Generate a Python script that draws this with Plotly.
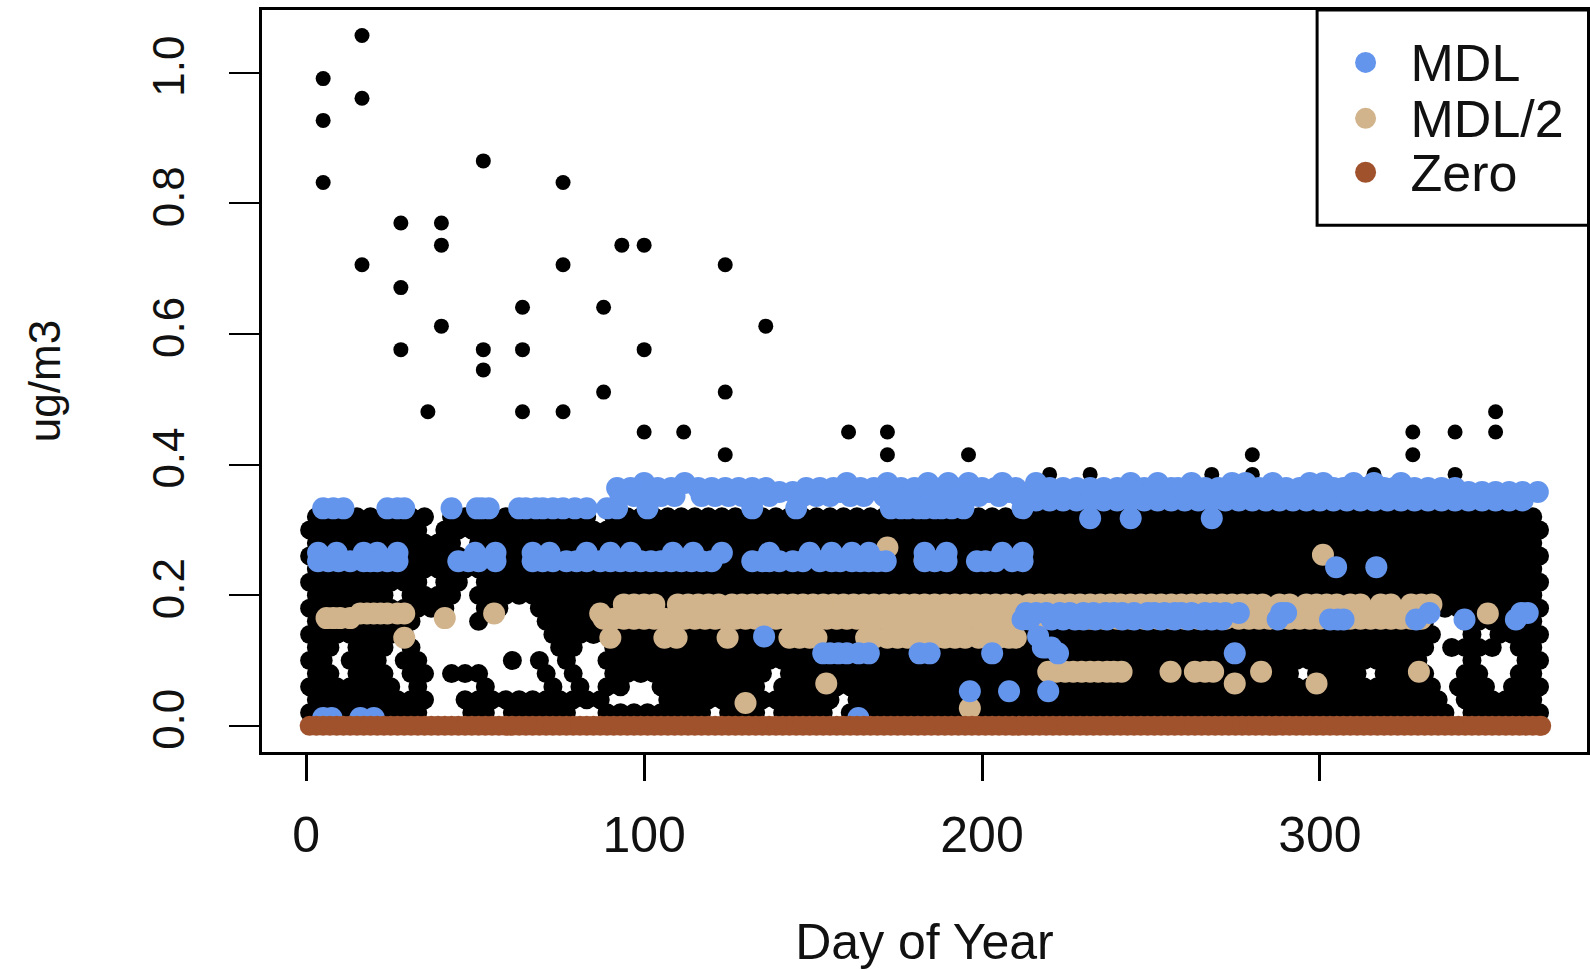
import plotly.graph_objects as go

BLACK = "#000000"
BLUE = "#6495ED"
TAN = "#D2B48C"
BROWN = "#A0522D"

# Isolated readings above the detection limit
high_days = [5, 5, 5, 16.5, 16.5, 16.5, 28, 28, 28, 36, 40, 40, 40, 52.4, 52.4, 52.4, 64, 64, 64,
             76, 76, 76, 88, 88, 93.4, 100, 100, 100, 111.7, 124, 124, 124, 136, 160.5, 172, 172,
             196, 220, 232, 268, 280, 280, 316, 327.5, 327.5, 340, 340, 352, 352]
high_vals = [.991, .927, .832, 1.057, .961, .706, .770, .671, .576, .481, .770, .736, .612, .865, .576, .545,
             .641, .576, .481, .832, .706, .481, .641, .511, .736, .736, .576, .450, .450, .706, .511, .415,
             .612, .450, .450, .415, .415, .385, .385, .385, .415, .385, .385, .450, .415, .450, .385, .481, .450]

# Dense detected readings: days read per concentration level
row_02 = [1,5,9,13,17,21,25,29,33,49,53,61,65,69,73,77,89,93,97,101,105,109,113,117,125,129,133,141,145,149,153,161,165,169,173,177,181,185,189,193,197,201,205,209,213,217,221,225,229,233,237,241,245,249,253,257,261,265,269,273,277,281,285,289,293,297,301,305,309,313,317,321,325,329,333,337,345,349,353,357,361,365]
row_04 = [3,7,11,15,19,23,27,31,35,47,51,55,59,63,67,71,75,79,83,87,107,111,115,119,123,127,131,135,139,143,147,151,155,163,167,171,175,179,183,187,191,195,199,203,207,211,215,219,223,227,231,235,239,243,247,251,255,259,263,267,271,275,279,283,287,291,295,299,303,307,311,315,319,323,327,331,335,343,347,351,355,359,363]
row_06 = [1,5,9,13,17,21,25,33,53,73,81,89,93,105,109,113,117,121,125,129,133,141,145,149,153,157,161,165,169,173,177,181,185,189,193,197,201,205,209,213,217,221,225,229,233,237,241,245,249,253,257,261,265,269,273,277,281,285,289,293,297,301,305,309,313,317,321,325,329,333,341,345,349,357,361,365]
row_08 = [3,7,15,19,23,31,35,43,47,51,71,79,91,95,99,103,107,111,115,119,123,127,131,135,143,147,151,155,159,163,167,171,175,179,183,187,191,195,199,203,207,211,215,219,223,227,231,235,239,243,247,251,255,259,263,267,271,275,279,283,287,291,299,303,307,311,319,323,327,331,343,347,359,363]
row_10 = [1,5,13,17,21,29,33,61,69,77,89,93,97,101,105,109,113,117,121,125,129,133,137,141,145,149,153,157,161,165,169,173,177,181,185,189,193,197,201,205,209,213,217,221,225,229,233,237,241,245,249,253,257,261,265,269,273,277,281,285,289,293,297,301,305,309,313,317,321,325,329,345,361,365]
row_12 = [3,7,15,19,23,31,75,79,91,95,99,103,107,111,115,119,123,127,131,135,139,143,147,151,155,159,163,167,171,175,179,183,187,191,195,199,203,207,211,215,219,223,227,231,235,239,243,247,251,255,259,263,267,271,275,279,283,287,291,295,299,303,307,311,315,319,323,327,331,339,343,347,351,359,363]
row_14 = [1,5,9,13,17,21,25,29,73,77,81,85,89,93,97,101,105,109,113,117,121,125,129,133,137,141,145,149,153,157,161,165,169,173,177,181,185,189,193,197,201,205,209,213,217,221,225,229,233,237,241,245,249,253,257,261,265,269,273,277,281,285,289,293,297,301,305,309,313,317,321,325,329,333,345,353,357,361,365]
row_16 = [3,7,11,15,19,23,27,31,51,71,75,79,83,87,91,95,99,103,107,111,115,119,123,127,131,135,139,143,147,151,155,159,163,167,171,175,179,183,187,191,195,199,203,207,211,215,219,223,227,231,235,239,243,247,251,255,259,263,267,271,275,279,283,287,291,295,299,303,307,311,315,319,323,327,331,343,347,351,355,359,363]
row_18 = [1,5,9,13,17,21,25,29,33,37,41,53,57,69,73,77,81,85,89,93,97,101,105,109,113,117,121,125,129,133,137,141,145,149,153,157,161,165,169,173,177,181,185,189,193,197,201,205,209,213,217,221,225,229,233,237,241,245,249,253,257,261,265,269,273,277,281,285,289,293,297,301,305,309,313,317,321,325,329,333,337,341,345,349,353,357,361,365]
row_20 = [3,7,11,15,19,23,31,35,39,43,51,55,59,63,67,71,75,79,83,87,91,95,99,103,107,111,115,119,123,127,131,135,139,143,147,151,155,159,163,167,171,175,179,183,187,191,195,199,203,207,211,215,219,223,227,231,235,239,243,247,251,255,259,263,267,271,275,279,283,287,291,295,299,303,307,311,315,319,323,327,331,335,339,343,347,351,355,359,363]
row_22 = [1,5,9,13,17,21,25,29,33,41,45,53,57,61,65,69,73,77,81,85,89,93,97,101,105,109,113,117,121,125,129,133,137,141,145,149,153,157,161,165,169,173,177,181,185,189,193,197,201,205,209,213,217,221,225,229,233,237,241,245,249,253,257,261,265,269,273,277,281,285,289,293,297,301,305,309,313,317,321,325,329,333,337,341,345,349,353,357,361,365]
row_24 = [3,7,11,15,19,23,27,31,35,39,43,47,51,55,59,63,67,71,75,79,83,87,91,95,99,103,107,111,115,119,123,127,131,135,139,143,147,151,155,159,163,167,171,175,179,183,187,191,195,199,203,207,211,215,219,223,227,231,235,239,243,247,251,255,259,263,267,271,275,279,283,287,291,295,299,303,307,311,315,319,323,327,331,335,339,343,347,351,355,359,363]
row_26 = [1,5,9,13,17,21,25,29,33,37,41,45,49,53,57,61,65,69,73,77,81,85,89,93,97,101,105,109,113,117,121,125,129,133,137,141,145,149,153,157,161,165,169,173,177,181,185,189,193,197,201,205,209,213,217,221,225,229,233,237,241,245,249,253,257,261,265,269,273,277,281,285,289,293,297,301,305,309,313,317,321,325,329,333,337,341,345,349,353,357,361,365]
row_28 = [3,7,11,15,19,23,27,31,35,39,43,51,55,59,63,67,71,75,79,83,87,91,95,99,103,107,111,115,119,123,127,131,135,139,143,147,151,155,159,163,167,171,175,179,183,187,191,195,199,203,207,211,215,219,223,227,231,235,239,243,247,251,255,259,263,267,271,275,279,283,287,291,295,299,303,307,311,315,319,323,327,331,335,339,343,347,351,355,359,363]
row_30 = [1,5,9,13,17,21,25,29,33,41,45,49,53,57,61,65,69,73,77,81,85,89,93,97,101,105,109,113,117,121,125,129,133,137,141,145,149,153,157,161,165,169,173,177,181,185,189,193,197,201,205,209,213,217,221,225,229,233,237,241,245,249,253,257,261,265,269,273,277,281,285,289,293,297,301,305,309,313,317,321,325,329,333,337,341,345,349,353,357,361,365]
row_32 = [3,7,11,15,19,23,27,31,35,43,47,51,55,59,63,67,71,75,79,83,91,95,99,103,107,111,115,119,123,127,131,135,139,143,147,151,155,159,163,167,171,175,179,183,187,191,195,199,203,207,211,215,219,223,227,231,235,239,243,247,251,255,259,263,267,271,275,279,283,287,291,295,299,303,307,311,315,319,323,327,331,335,339,343,347,351,355,359,363]
dense_levels = [.02, .04, .06, .08, .10, .12, .14, .16, .18, .20, .22, .24, .26, .28, .30, .32]
dense_rows = [row_02, row_04, row_06, row_08, row_10, row_12, row_14, row_16, row_18, row_20, row_22, row_24, row_26, row_28, row_30, row_32]

# MDL/2 substitutions, days per level
tan_186 = [94,97,100,103,110,113,116,119,122,126,129,132,135,138,141,144,147,150,153,156,159,162,165,168,171,174,177,180,183,186,189,192,195,198,201,204,207,210,214,217,220,223,226,229,232,235,238,241,244,247,250,253,256,259,262,265,268,271,274,277,280,283,288,291,296,299,302,305,309,312,318,321,327,330,333]
tan_164 = [88,91,94,97,100,103,106,109,112,115,118,121,124,127,130,133,136,139,142,145,148,151,154,157,160,163,166,169,172,175,178,181,184,187,190,193,196,199,202,205,208,211,214,217,220,224,228,232,236,240,244,248,252,256,260,264,268,272,276,279,282,285,288,291,294,297,300,303,306,309,312,315,318,321,324,327,330]
tan_172 = [16, 18, 20, 22, 24, 27, 29, 55.6, 87, 349.7]
tan_165 = [6, 8, 10, 13, 41]
tan_137 = [90, 106, 109.6, 124.7, 29, 143, 146, 149, 151, 165.7, 168, 172, 175, 178, 180, 183, 186, 189, 192, 195, 199, 202, 205, 208, 210]
tan_083 = [219.6, 222, 224.6, 227, 229.5, 232, 234.4, 237, 239, 241.3, 255.8, 263, 266, 268.4, 282.6, 329.3]
tan_065 = [153.9, 274.8, 299]
tan_035 = [130]
tan_027 = [196.4]
tan_273 = [172]
tan_262 = [300.9]
tan_254 = [183]
half_levels = [.186, .164, .172, .165, .135, .083, .065, .035, .027, .273, .262, .254]
half_rows = [tan_186, tan_164, tan_172, tan_165, tan_137, tan_083, tan_065, tan_035, tan_027, tan_273, tan_262, tan_254]

# MDL substitutions, days per level
mdl_372 = [100,112,160,172,184,190,196,206,216,244,252,262,274,278,286,297,301,310,316,324]
mdl_364 = [92,96,104,108,116,120,124,128,132,136,148,152,156,164,168,176,180,188,192,200,204,210,220,224,228,232,236,240,248,256,258,266,270,282,290,294,304,307,313,319,322,328,332,336,340]
mdl_358 = [140,144,158,174,182,194,198,202,208,214,218,226,234,238,246,250,254,260,268,276,280,284,288,292,300,326,344,348,352,356,360,364.5]
mdl_352 = [93,97,101,105,109,117,121,125,129,133,137,147,151,155,161,165,171,175,179,185,189,195,199,205,211]
mdl_345 = [216,220,224,228,232,236,240,244,248,252,256,260,264,268,272,276,280,284,288,292,296,300,304,308,312,316,320,324,328,332,336,340,344,348,352,356,360]
mdl_333 = [5,8,11,24,27,29,43,50.5,52,54,63,65,68,70,73,76,79.5,83,89,92,101,132,145,173,176,178,181,183,186,188,191,194.5,212]
mdl_318 = [232,244,268]
mdl_265 = [3.5,9,17,21,27,50,56,67,72,83,90,96,108.5,114.5,123,137,149,155.5,161.5,166.5,183,189.5,206,212]
mdl_252 = [3.5,6.5,9.5,13,17,19,21,24,27,45,48,51,56,67,70,73,77,80,83,87,90,93,96,99,102,105,108,111,114,117,120,132,135,137,140,144,147,152,155.5,158,161.5,164,166.5,169,171.5,183,186,189.5,198.5,201,204,209,212]
mdl_173 = [213,216,219,223,226,230,233,236.5,239,241.5,245,249,251,254,257,259,262,266,269,272,276,288.5,290,332.4,359.6,361.5]
mdl_163 = [212,214,220.6,224,227.5,230,233.5,237,241.5,245,249,253,257,261,265,268,271,287.5,305.3,303,307,328.5,342.8,358]
mdl_243 = [304.8,316.7]
mdl_137 = [135.5,216.6]
mdl_120 = [218,219,220.5]
mdl_111 = [153,155,157.5,160,163.5,166.5,181.5,184.5,203,222.5,274.8]
mdl_053 = [196.4,208,219.6]
mdl_012 = [5,7.5,16,20,163.4]
mdl_levels = [.372,.364,.358,.352,.345,.333,.318,.265,.252,.173,.163,.243,.137,.120,.111,.053,.012]
mdl_rows = [mdl_372,mdl_364,mdl_358,mdl_352,mdl_345,mdl_333,mdl_318,mdl_265,mdl_252,mdl_173,mdl_163,mdl_243,mdl_137,mdl_120,mdl_111,mdl_053,mdl_012]

# Zero substitutions
zero_days = [1,3,5,7,9,11,13,15,17,19,21,23,25,27,29,31,33,35,37,39,41,43,45,47,49,51,53,55,57,59,61,63,65,67,69,71,73,75,77,79,81,83,85,87,89,91,93,95,97,99,101,103,105,107,109,111,113,115,117,119,121,123,125,127,129,131,133,135,137,139,141,143,145,147,149,151,153,155,157,159,161,163,165,167,169,171,173,175,177,179,181,183,185,187,189,191,193,195,197,199,201,203,205,207,209,211,213,215,217,219,221,223,225,227,229,231,233,235,237,239,241,243,245,247,249,251,253,255,257,259,261,263,265,267,269,271,273,275,277,279,281,283,285,287,289,291,293,295,297,299,301,303,305,307,309,311,313,315,317,319,321,323,325,327,329,331,333,335,337,339,341,343,345,347,349,351,353,355,357,359,361,363,365,365.5]

legend_labels = ["MDL", "MDL/2", "Zero"]
legend_colors = [BLUE, TAN, BROWN]
legend_key_px = [1366, 1366, 1366]
legend_text_px = [1411, 1411, 1411]
legend_key_row_px = [62, 118, 172]
legend_text_row_px = [68, 124, 178]
x_ticks = [0, 100, 200, 300]
y_ticks = [0.0, 0.2, 0.4, 0.6, 0.8, 1.0]
y_tick_labels = ["0.0", "0.2", "0.4", "0.6", "0.8", "1.0"]

FONT = "Liberation Sans"


def flatten(levels, rows):
    xs, ys = [], []
    for level, row in zip(levels, rows):
        xs += row
        ys += [level] * len(row)
    return xs, ys


dense_x, dense_y = flatten(dense_levels, dense_rows)
half_x, half_y = flatten(half_levels, half_rows)
mdl_x, mdl_y = flatten(mdl_levels, mdl_rows)

fig = go.Figure()
fig.add_trace(go.Scatter(x=high_days, y=high_vals, mode="markers", name="Measured",
                         marker=dict(color=BLACK, size=15)))
fig.add_trace(go.Scatter(x=dense_x, y=dense_y, mode="markers", name="Measured (dense)",
                         marker=dict(color=BLACK, size=19)))
fig.add_trace(go.Scatter(x=half_x, y=half_y, mode="markers", name="MDL/2",
                         marker=dict(color=TAN, size=22)))
fig.add_trace(go.Scatter(x=mdl_x, y=mdl_y, mode="markers", name="MDL",
                         marker=dict(color=BLUE, size=22)))
fig.add_trace(go.Scatter(x=zero_days, y=[0] * len(zero_days), mode="markers", name="Zero",
                         marker=dict(color=BROWN, size=20)))

W, H = 1590, 970
L, R, T, B = 262, 1587.5, 9.5, 752.5
BOX_L, BOX_B = 1317.5, 225
box_x0 = (BOX_L - L) / (R - L)
box_y0 = (B - BOX_B) / (B - T)

# Legend key on its own small axes, whose scale runs in page pixels across the legend box
fig.add_trace(go.Scatter(x=legend_key_px, y=legend_key_row_px, mode="markers", xaxis="x2", yaxis="y2",
                         marker=dict(color=legend_colors, size=21), hoverinfo="skip"))
fig.add_trace(go.Scatter(x=legend_text_px, y=legend_text_row_px, mode="text", xaxis="x2", yaxis="y2",
                         text=legend_labels, textposition="middle right",
                         textfont=dict(family=FONT, size=52, color="#111111"), hoverinfo="skip"))

axis_common = dict(showgrid=False, zeroline=False, showline=True, mirror=True, linecolor="black",
                   linewidth=3, ticks="outside", tickcolor="black")
fig.update_layout(
    width=W, height=H, margin=dict(l=L, r=W - R, t=T, b=H - B, pad=0, autoexpand=False),
    paper_bgcolor="white", plot_bgcolor="rgba(0,0,0,0)", showlegend=False,
    font=dict(family=FONT, color="#111111"),
    xaxis=dict(axis_common, range=[-13.1, 379.05], tickvals=x_ticks, ticklen=26, tickwidth=3,
               ticklabelstandoff=11, tickfont=dict(size=50),
               title=dict(text="Day of Year", font=dict(size=50), standoff=68)),
    yaxis=dict(axis_common, range=[-0.040, 1.096], tickvals=y_ticks, ticktext=y_tick_labels, ticklen=30,
               tickwidth=2, tickangle=-90, tickfont=dict(size=44), ticklabelstandoff=27,
               title=dict(text="ug/m3", font=dict(size=44), standoff=71)),
    xaxis2=dict(domain=[box_x0, 1], range=[BOX_L, R], anchor="y2", visible=False, fixedrange=True),
    yaxis2=dict(domain=[box_y0, 1], range=[BOX_B, T], anchor="x2", visible=False, fixedrange=True),
    shapes=[dict(type="rect", xref="paper", yref="paper", x0=box_x0, x1=1.002, y0=box_y0, y1=1,
                 line=dict(color="black", width=3), layer="above")],
)
fig.write_html("out.html", config={"displayModeBar": False},
               post_script="document.body.style.margin='0';document.documentElement.style.overflow='hidden';")
